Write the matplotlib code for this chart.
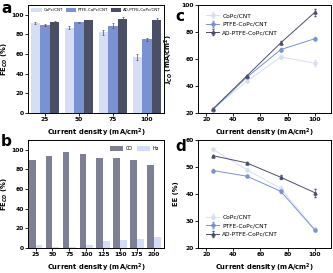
import matplotlib
matplotlib.use("Agg")
import matplotlib.pyplot as plt
import numpy as np

plt.rcParams['font.family'] = 'DejaVu Sans'
plt.rcParams['font.weight'] = 'bold'
plt.rcParams['axes.linewidth'] = 0.7

c_light = '#d6def4'
c_mid = '#7a92d2'
c_dark = '#4b4f66'
c_co = '#7d7f95'
c_h2 = '#d3ddf8'

samples = ['CoPc/CNT', 'PTFE-CoPc/CNT', 'AD-PTFE-CoPc/CNT']

# panel a
cd_a = ['25', '50', '75', '100']
fe_copc = [92, 87, 82, 57]
fe_copc_err = [1, 1.5, 3, 3]
fe_ptfe = [90, 92.5, 89, 75]
fe_ptfe_err = [1, 0.5, 2.5, 1.5]
fe_ad = [93, 94.5, 96, 94.5]
fe_ad_err = [0.5, 0.7, 1.5, 2.5]

# panel b
cd_b = ['25', '50', '75', '100', '125', '150', '175', '200']
fe_co = [90, 94, 98, 96, 92, 92, 89.5, 85]
fe_h2 = [3, 1.5, 1.5, 3, 7, 8, 9.5, 11]

# panels c, d
cd = [25, 50, 75, 100]
j_copc = [23, 43.5, 61.5, 57]
j_copc_err = [0.5, 0.8, 1.2, 2.0]
j_ptfe = [22.5, 46.5, 67, 75]
j_ptfe_err = [0.4, 0.5, 1.0, 1.0]
j_ad = [23, 47.5, 72, 94.5]
j_ad_err = [0.3, 0.5, 1.0, 2.5]

ee_copc = [56.5, 49, 42, 27]
ee_copc_err = [0.6, 0.5, 0.8, 0.6]
ee_ptfe = [48.7, 46.6, 41, 26.7]
ee_ptfe_err = [0.6, 0.4, 0.7, 0.4]
ee_ad = [54.2, 51.5, 46.2, 40.5]
ee_ad_err = [0.4, 0.4, 0.8, 1.5]

W, H = 333, 273
fig = plt.figure(figsize=(W / 100, H / 100), dpi=100)

def add_ax(l, r, t, b):
    return fig.add_axes([l / W, 1 - b / H, (r - l) / W, (b - t) / H])

ax_a = add_ax(28, 164, 5, 113)
ax_c = add_ax(198, 331, 5, 113)
ax_b = add_ax(28, 164, 140, 248)
ax_d = add_ax(198, 331, 140, 248)

tick_fs = 4.3
lab_fs = 4.9
leg_prop = {'weight': 'normal'}

def style(ax, ylab_x):
    ax.tick_params(labelsize=tick_fs, length=2, width=0.6, pad=1.0)
    for lbl in ax.get_xticklabels() + ax.get_yticklabels():
        lbl.set_fontweight('bold')
    ax.yaxis.set_label_coords(ylab_x, 0.5)

xlab = 'Current density (mA/cm$^2$)'

# a
x = np.arange(len(cd_a))
bw = 0.28
ekw = dict(elinewidth=0.5, capsize=1, capthick=0.5, ecolor='#555555')
ax_a.bar(x - bw, fe_copc, bw, yerr=fe_copc_err, color=c_light, label=samples[0], error_kw=ekw)
ax_a.bar(x, fe_ptfe, bw, yerr=fe_ptfe_err, color=c_mid, label=samples[1], error_kw=ekw)
ax_a.bar(x + bw, fe_ad, bw, yerr=fe_ad_err, color=c_dark, label=samples[2], error_kw=ekw)
ax_a.set_xticks(x)
ax_a.set_xticklabels(cd_a)
ax_a.set_xlim(-0.5, 3.5)
ax_a.set_ylim(0, 110)
ax_a.set_yticks([0, 20, 40, 60, 80, 100])
ax_a.set_xlabel(xlab, fontsize=lab_fs, fontweight='bold', labelpad=3)
ax_a.set_ylabel('FE$_{CO}$ (%)', fontsize=lab_fs, fontweight='bold')
ax_a.legend(loc='upper center', ncol=3, prop=dict(leg_prop, size=2.9), frameon=False,
            handlelength=2.6, handleheight=1.0, columnspacing=0.7, handletextpad=0.4,
            borderaxespad=0.4, bbox_to_anchor=(0.5, 1.0))
style(ax_a, -0.13)

# b
xb = np.arange(len(cd_b))
ax_b.bar(xb - 0.2, fe_co, 0.4, color=c_co, label='CO')
ax_b.bar(xb + 0.2, fe_h2, 0.4, color=c_h2, label='H$_2$')
ax_b.set_xticks(xb)
ax_b.set_xticklabels(cd_b)
ax_b.set_xlim(-0.45, 7.6)
ax_b.set_ylim(0, 110)
ax_b.set_yticks([0, 20, 40, 60, 80, 100])
ax_b.set_xlabel(xlab, fontsize=lab_fs, fontweight='bold', labelpad=3)
ax_b.set_ylabel('FE$_{CO}$ (%)', fontsize=lab_fs, fontweight='bold')
ax_b.legend(loc='upper right', ncol=2, prop=dict(leg_prop, size=3.4), frameon=False,
            handlelength=2.8, handleheight=1.1, columnspacing=1.0, handletextpad=0.4,
            borderaxespad=0.5)
style(ax_b, -0.13)

# c
lkw = dict(lw=0.7, ms=2.2, elinewidth=0.4, capsize=0.8)
ax_c.errorbar(cd, j_copc, yerr=j_copc_err, color=c_light, marker='o', label=samples[0], **lkw)
ax_c.errorbar(cd, j_ptfe, yerr=j_ptfe_err, color=c_mid, marker='o', label=samples[1], **lkw)
ax_c.errorbar(cd, j_ad, yerr=j_ad_err, color=c_dark, marker='^', label=samples[2], **lkw)
ax_c.set_xlim(14, 112)
ax_c.set_ylim(20, 100)
ax_c.set_xticks([20, 40, 60, 80, 100])
ax_c.set_yticks([20, 40, 60, 80, 100])
ax_c.set_xlabel(xlab, fontsize=lab_fs, fontweight='bold', labelpad=3)
ax_c.set_ylabel('J$_{CO}$ (mA/cm$^2$)', fontsize=lab_fs, fontweight='bold')
ax_c.legend(loc='upper left', prop=dict(leg_prop, size=4.2), frameon=False, handlelength=2.2,
            handletextpad=0.5, labelspacing=0.6, borderaxespad=0.6,
            bbox_to_anchor=(0.02, 0.98))
style(ax_c, -0.17)

# d
ax_d.errorbar(cd, ee_copc, yerr=ee_copc_err, color=c_light, marker='o', label=samples[0], **lkw)
ax_d.errorbar(cd, ee_ptfe, yerr=ee_ptfe_err, color=c_mid, marker='o', label=samples[1], **lkw)
ax_d.errorbar(cd, ee_ad, yerr=ee_ad_err, color=c_dark, marker='^', label=samples[2], **lkw)
ax_d.set_xlim(14, 112)
ax_d.set_ylim(20, 60)
ax_d.set_xticks([20, 40, 60, 80, 100])
ax_d.set_yticks([20, 30, 40, 50, 60])
ax_d.set_xlabel(xlab, fontsize=lab_fs, fontweight='bold', labelpad=3)
ax_d.set_ylabel('EE (%)', fontsize=lab_fs, fontweight='bold')
ax_d.legend(loc='lower left', prop=dict(leg_prop, size=4.2), frameon=False, handlelength=2.2,
            handletextpad=0.5, labelspacing=0.6, borderaxespad=0.6,
            bbox_to_anchor=(0.02, 0.05))
style(ax_d, -0.14)

# panel letters
fig.text(1 / W, 1 - 1 / H, 'a', fontsize=11, fontweight='bold', va='top')
fig.text(1 / W, 1 - 134 / H, 'b', fontsize=11, fontweight='bold', va='top')
fig.text(175 / W, 1 - 9 / H, 'c', fontsize=11, fontweight='bold', va='top')
fig.text(175 / W, 1 - 139 / H, 'd', fontsize=11, fontweight='bold', va='top')

fig.savefig('out.png', dpi=100)
